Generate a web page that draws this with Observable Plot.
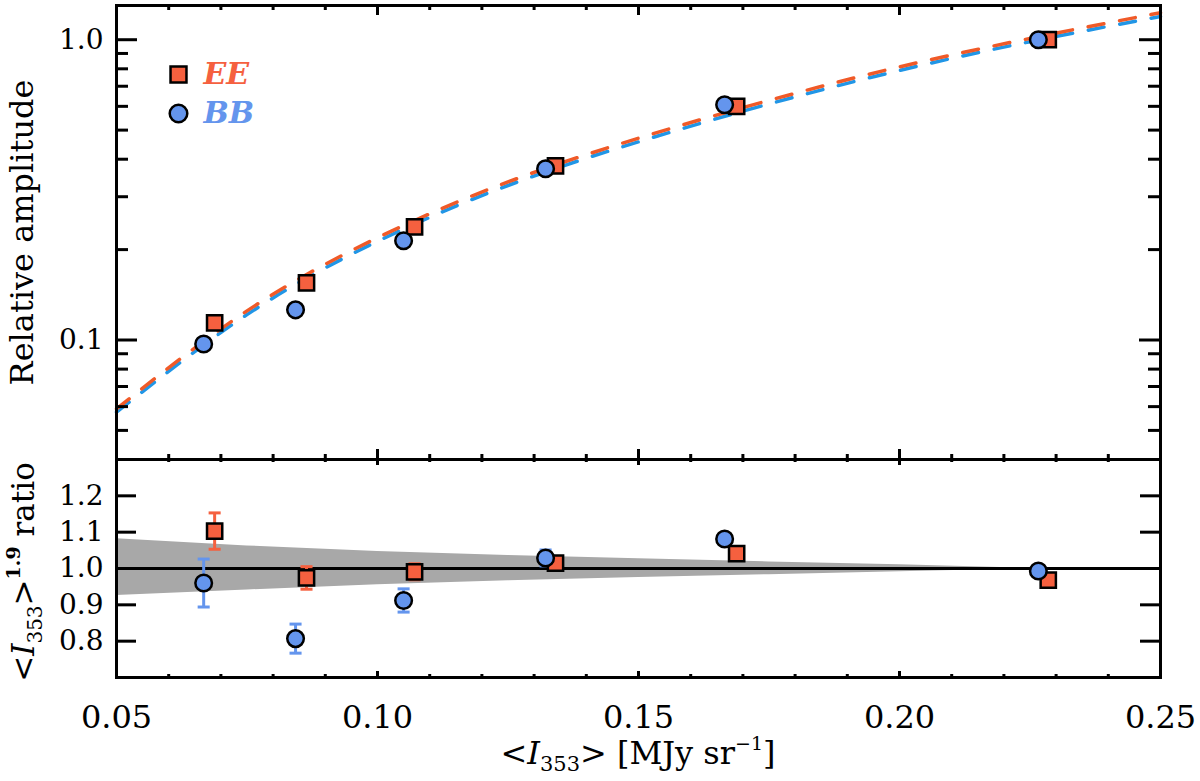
<!DOCTYPE html>
<html>
<head>
<meta charset="utf-8">
<script src="https://cdn.jsdelivr.net/npm/d3@7"></script>
<script src="https://cdn.jsdelivr.net/npm/@observablehq/plot@0.6"></script>
<style>
  body { margin: 0; background: #fff; }
  #chart svg { display: block; }
</style>
</head>
<body>
<div id="chart"></div>
<script>
// series
const series = ["EE", "BB"];

// mean intensity of each bin (EE drawn slightly offset to the right)
const xEE = [0.0688, 0.0864, 0.1071, 0.1341, 0.1688, 0.2285];
const xBB = [0.0667, 0.0843, 0.1050, 0.1322, 0.1665, 0.2266];

// relative amplitude (top panel)
const ampEE = [0.114, 0.155, 0.238, 0.380, 0.600, 1.0];
const ampBB = [0.097, 0.126, 0.214, 0.372, 0.607, 1.0];

// ratio to <I353>^1.9 (bottom panel) and its errors
const ratioEE = [1.103, 0.974, 0.991, 1.015, 1.041, 0.968];
const errEE   = [0.050, 0.031, 0.022, 0.015, 0.012, 0.010];
const ratioBB = [0.960, 0.807, 0.912, 1.029, 1.081, 0.993];
const errBB   = [0.066, 0.040, 0.032, 0.022, 0.015, 0.008];

// dashed fits
const fitX  = [0.05, 0.075, 0.10, 0.125, 0.15, 0.175, 0.20, 0.225, 0.25];
const fitEE = [0.059, 0.125, 0.219, 0.336, 0.470, 0.628, 0.812, 1.01, 1.23];
const fitBB = [0.0575, 0.1215, 0.213, 0.327, 0.457, 0.611, 0.790, 0.985, 1.195];

// grey band in the ratio panel
const bandX  = [0.05, 0.075, 0.10, 0.125, 0.15, 0.175, 0.20, 0.2266];
const bandHi = [1.082, 1.062, 1.047, 1.036, 1.027, 1.018, 1.010, 1.0];
const bandLo = [0.926, 0.941, 0.955, 0.966, 0.975, 0.983, 0.991, 1.0];

// ticks
const xMajor = [0.05, 0.10, 0.15, 0.20, 0.25];
const xMinor = [0.06, 0.07, 0.08, 0.09, 0.11, 0.12, 0.13, 0.14, 0.16, 0.17, 0.18, 0.19,
                0.21, 0.22, 0.23, 0.24];
const yTopMajor = [0.1, 1.0];
const yTopMinor = [0.05, 0.06, 0.07, 0.08, 0.09, 0.2, 0.3, 0.4, 0.5, 0.6, 0.7, 0.8, 0.9];
const yBotMajor = [0.8, 0.9, 1.0, 1.1, 1.2];

const red = "#f5603f", blue = "#6495ed";
const redDash = "#f05a28", blueDash = "#2196e6";
const serif = "DejaVu Serif";

const ee = xEE.map((x, i) => ({x, amp: ampEE[i], ratio: ratioEE[i], err: errEE[i]}));
const bb = xBB.map((x, i) => ({x, amp: ampBB[i], ratio: ratioBB[i], err: errBB[i]}));
const fit = fitX.map((x, i) => ({x, ee: fitEE[i], bb: fitBB[i]}));
const band = bandX.map((x, i) => ({x, lo: bandLo[i], hi: bandHi[i]}));

const W = 1200, mL = 116, mR = 40;
const innerW = W - mL - mR;

// little horizontal bar for error-bar caps
const cap = {draw(ctx, size) { const w = Math.sqrt(size) / 2; ctx.moveTo(-w, 0); ctx.lineTo(w, 0); }};

function frameTicks(innerH, xLen, xMinLen, yLen, yMinor) {
  return [
    Plot.tickX(xMajor, {x: d => d, insetTop: innerH - xLen, strokeWidth: 3}),
    Plot.tickX(xMajor, {x: d => d, insetBottom: innerH - xLen, strokeWidth: 3}),
    Plot.tickX(xMinor, {x: d => d, insetTop: innerH - xMinLen, strokeWidth: 3}),
    Plot.tickX(xMinor, {x: d => d, insetBottom: innerH - xMinLen, strokeWidth: 3}),
    Plot.tickY(yMinor.major, {y: d => d, insetRight: innerW - yLen, strokeWidth: 3}),
    Plot.tickY(yMinor.major, {y: d => d, insetLeft: innerW - yLen, strokeWidth: 3}),
    Plot.tickY(yMinor.minor, {y: d => d, insetRight: innerW - 12, strokeWidth: 3}),
    Plot.tickY(yMinor.minor, {y: d => d, insetLeft: innerW - 12, strokeWidth: 3}),
    Plot.text(yMinor.major, {y: d => d, text: d3.format(".1f"), frameAnchor: "left",
      textAnchor: "end", dx: -13, fontSize: 28, fontFamily: serif, fill: "black"})
  ];
}

const topH = 459, topM = 5;
const plotTop = Plot.plot({
  width: W, height: topH,
  marginLeft: mL, marginRight: mR, marginTop: topM, marginBottom: 0,
  x: {domain: [0.05, 0.25], axis: null},
  y: {type: "log", domain: [0.04, 1.3], axis: null},
  style: {fontFamily: serif, background: "white"},
  marks: [
    Plot.line(fit, {x: "x", y: "bb", stroke: blueDash, strokeWidth: 3.5, strokeDasharray: "16,16", curve: "natural"}),
    Plot.line(fit, {x: "x", y: "ee", stroke: redDash, strokeWidth: 3.5, strokeDasharray: "16,16", curve: "natural"}),
    Plot.dot(ee, {x: "x", y: "amp", symbol: "square", r: 8.6, fill: red, stroke: "black", strokeWidth: 2.5}),
    Plot.dot(bb, {x: "x", y: "amp", symbol: "circle", r: 8.3, fill: blue, stroke: "black", strokeWidth: 2.5}),
    // legend
    Plot.dot([series[0]], {frameAnchor: "top-left", dx: 62, dy: 69, symbol: "square", r: 9,
      fill: red, stroke: "black", strokeWidth: 2.5}),
    Plot.dot([series[1]], {frameAnchor: "top-left", dx: 62, dy: 108, symbol: "circle", r: 8.8,
      fill: blue, stroke: "black", strokeWidth: 2.5}),
    Plot.text([series[0]], {frameAnchor: "top-left", dx: 87, dy: 69, text: d => d, textAnchor: "start",
      lineAnchor: "middle", fill: red, fontSize: 30, fontStyle: "italic", fontWeight: "bold", fontFamily: serif}),
    Plot.text([series[1]], {frameAnchor: "top-left", dx: 87, dy: 108, text: d => d, textAnchor: "start",
      lineAnchor: "middle", fill: blue, fontSize: 30, fontStyle: "italic", fontWeight: "bold", fontFamily: serif}),
    ...frameTicks(topH - topM, 10, 5, 21, {major: yTopMajor, minor: yTopMinor}),
    Plot.text(["Relative amplitude"], {frameAnchor: "left", dx: -94, rotate: -90, text: d => d,
      textAnchor: "middle", lineAnchor: "middle", fontSize: 32, fontFamily: serif, fill: "black"}),
    Plot.frame({stroke: "black", strokeWidth: 3})
  ]
});

const botH = 322, botInner = 218;
const plotBot = Plot.plot({
  width: W, height: botH,
  marginLeft: mL, marginRight: mR, marginTop: 0, marginBottom: botH - botInner,
  x: {domain: [0.05, 0.25], axis: null},
  y: {domain: [0.7, 1.3], axis: null},
  style: {fontFamily: serif, background: "white"},
  marks: [
    Plot.areaY(band, {x: "x", y1: "lo", y2: "hi", fill: "#a8a8a8"}),
    Plot.ruleY([1], {stroke: "black", strokeWidth: 3}),
    Plot.ruleX(ee, {x: "x", y1: d => d.ratio - d.err, y2: d => d.ratio + d.err, stroke: red, strokeWidth: 3}),
    Plot.dot(ee, {x: "x", y: d => d.ratio - d.err, symbol: cap, r: 6.8, fill: "none", stroke: red, strokeWidth: 3}),
    Plot.dot(ee, {x: "x", y: d => d.ratio + d.err, symbol: cap, r: 6.8, fill: "none", stroke: red, strokeWidth: 3}),
    Plot.ruleX(bb, {x: "x", y1: d => d.ratio - d.err, y2: d => d.ratio + d.err, stroke: blue, strokeWidth: 3}),
    Plot.dot(bb, {x: "x", y: d => d.ratio - d.err, symbol: cap, r: 6.8, fill: "none", stroke: blue, strokeWidth: 3}),
    Plot.dot(bb, {x: "x", y: d => d.ratio + d.err, symbol: cap, r: 6.8, fill: "none", stroke: blue, strokeWidth: 3}),
    Plot.dot(ee, {x: "x", y: "ratio", symbol: "square", r: 8.6, fill: red, stroke: "black", strokeWidth: 2.5}),
    Plot.dot(bb, {x: "x", y: "ratio", symbol: "circle", r: 8.3, fill: blue, stroke: "black", strokeWidth: 2.5}),
    ...frameTicks(botInner, 6, 3, 20, {major: yBotMajor, minor: []}),
    Plot.text(xMajor, {x: d => d, text: d3.format(".2f"), frameAnchor: "bottom", lineAnchor: "bottom",
      dy: 50, fontSize: 32, fontFamily: serif, fill: "black"}),
    Plot.frame({stroke: "black", strokeWidth: 3})
  ]
});

const chart = document.getElementById("chart");
chart.append(plotTop, plotBot);

// labels with sub/superscripts
const svgBot = d3.select(plotBot);

const yLab = svgBot.append("text")
  .attr("transform", "translate(34,113) rotate(-90)")
  .attr("text-anchor", "middle")
  .attr("font-family", serif).attr("font-size", 31).attr("fill", "black");
yLab.append("tspan").text("<");
yLab.append("tspan").attr("font-style", "italic").text("I");
yLab.append("tspan").attr("font-size", 20).attr("dy", 8).text("353");
yLab.append("tspan").attr("dy", -8).text(">");
yLab.append("tspan").attr("font-size", 19).attr("font-weight", "bold").attr("dy", -14).text("1.9");
yLab.append("tspan").attr("dy", 14).text(" ratio");

const xLab = svgBot.append("text")
  .attr("x", mL + innerW / 2).attr("y", 305)
  .attr("text-anchor", "middle")
  .attr("font-family", serif).attr("font-size", 32).attr("fill", "black");
xLab.append("tspan").text("<");
xLab.append("tspan").attr("font-style", "italic").text("I");
xLab.append("tspan").attr("font-size", 21).attr("dy", 7).text("353");
xLab.append("tspan").attr("dy", -7).text("> [MJy sr");
xLab.append("tspan").attr("font-size", 19).attr("dy", -14).text("−1");
xLab.append("tspan").attr("dy", 14).text("]");
</script>
</body>
</html>
